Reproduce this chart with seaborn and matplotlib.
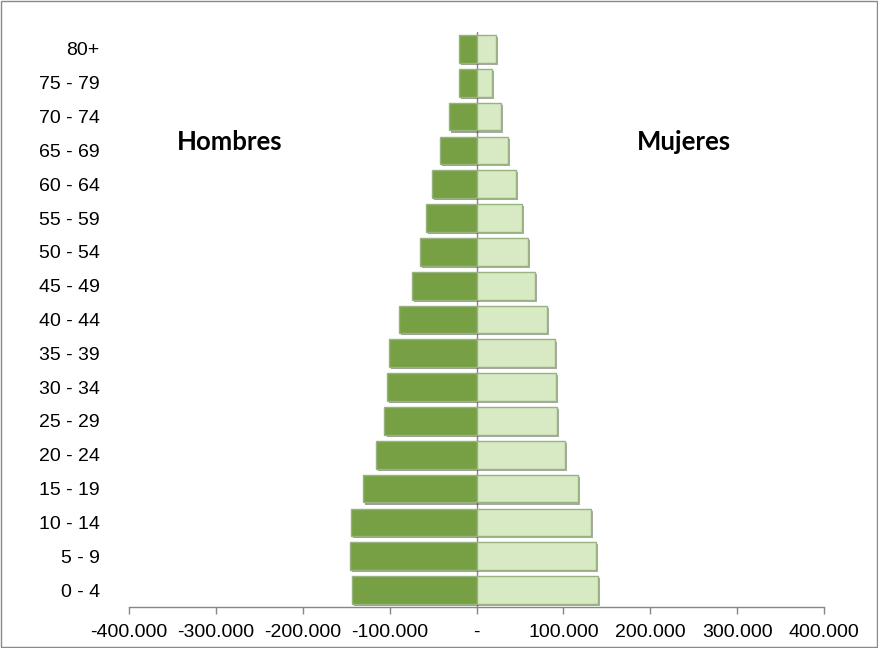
import pandas as pd
import seaborn as sns
import matplotlib.pyplot as plt
import matplotlib.patheffects as pe
from matplotlib.patches import Rectangle
from matplotlib.ticker import FuncFormatter

# Population pyramid data
ages = ['0 - 4', '5 - 9', '10 - 14', '15 - 19', '20 - 24', '25 - 29', '30 - 34',
        '35 - 39', '40 - 44', '45 - 49', '50 - 54', '55 - 59', '60 - 64',
        '65 - 69', '70 - 74', '75 - 79', '80+']
hombres = [143000, 146000, 145000, 131000, 116000, 106000, 103000, 101000,
           89000, 74000, 65000, 58000, 51000, 42000, 32000, 20000, 20000]
mujeres = [140000, 138000, 132000, 117000, 102000, 93000, 91000, 90000,
           81000, 67000, 59000, 52000, 45000, 36000, 28000, 18000, 22000]

df = pd.DataFrame({
    'Edad': ages * 2,
    'Poblacion': [-v for v in hombres] + mujeres,
    'Sexo': ['Hombres'] * len(ages) + ['Mujeres'] * len(ages),
})

sns.set_style('white')
plt.rcParams['font.family'] = ['Liberation Sans', 'DejaVu Sans']
plt.rcParams['text.color'] = 'black'
plt.rcParams['xtick.labelcolor'] = 'black'
plt.rcParams['ytick.labelcolor'] = 'black'

fig = plt.figure(figsize=(8.79, 6.48), dpi=100)
ax = fig.add_axes([0.1468, 0.0633, 0.7906, 0.8873])

sns.barplot(
    data=df, x='Poblacion', y='Edad', hue='Sexo',
    order=ages[::-1], hue_order=['Hombres', 'Mujeres'],
    palette={'Hombres': '#76A043', 'Mujeres': '#D8EAC4'}, saturation=1,
    dodge=False, width=0.82, orient='h', legend=False, ax=ax,
)

shadow = [pe.SimplePatchShadow(offset=(1.5, -1.5), alpha=0.45), pe.Normal()]
for bar in ax.patches:
    men = bar.get_x() < 0
    bar.set_edgecolor('#55762E' if men else '#98B280')
    bar.set_linewidth(1.0)
    bar.set_path_effects(shadow)

ax.set_xlim(-400000, 400000)
ax.set_ylim(16.5, -0.5)
ax.set_xticks(range(-400000, 400001, 100000))
ax.xaxis.set_major_formatter(FuncFormatter(
    lambda v, p: '-' if v == 0 else f"{v:,.0f}".replace(',', '.')))

for s in ['top', 'right', 'left']:
    ax.spines[s].set_visible(False)
ax.spines['bottom'].set_color('#868686')
ax.spines['bottom'].set_linewidth(1.0)
ax.axvline(0, color='#868686', lw=1.0, zorder=0.5)

ax.tick_params(axis='x', direction='out', length=5, width=1, color='#868686',
               labelsize=14, pad=7, bottom=True)
ax.tick_params(axis='y', length=0, labelsize=14, pad=21)
ax.set_xlabel('')
ax.set_ylabel('')

ax.text(0.145, 0.809, 'Hombres', transform=ax.transAxes, ha='center', va='center',
        fontsize=18.5, fontweight='bold', family=['Lato', 'DejaVu Sans'])
ax.text(0.799, 0.809, 'Mujeres', transform=ax.transAxes, ha='center', va='center',
        fontsize=18.5, fontweight='bold', family=['Lato', 'DejaVu Sans'])

fig.patches.append(Rectangle((0.001, 0.001), 0.997, 0.997, transform=fig.transFigure,
                             fill=False, edgecolor='#898989', lw=1.0))

plt.savefig('out.png', dpi=100)
